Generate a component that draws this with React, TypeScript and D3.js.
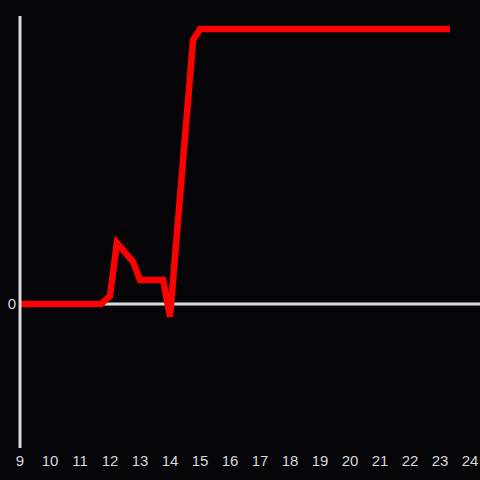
import React from "react";
import * as d3 from "d3";

const times = [9, 11.7, 12.0, 12.23, 12.77, 13.0, 13.77, 14.0, 14.77, 15.0, 23.33];
const values = [0, 0, 2.9, 22.2, 15.3, 8.7, 8.7, -4.7, 96, 100, 100];
const xTicks = [9, 10, 11, 12, 13, 14, 15, 16, 17, 18, 19, 20, 21, 22, 23, 24];
const yTicks = [0];

const W = 480;
const H = 480;

export default function App() {
  React.useEffect(() => {
    document.body.style.margin = "0";
    document.body.style.background = "#050407";
  }, []);
  const x = d3.scaleLinear().domain([9, 24]).range([20, 470]);
  const y = d3.scaleLinear().domain([-52.4, 104.7]).range([448, 16]);
  const data = times.map((t, i) => [t, values[i]] as [number, number]);
  const line = d3
    .line<[number, number]>()
    .x((d) => x(d[0]))
    .y((d) => y(d[1]));
  return (
    <svg width={W} height={H} style={{ display: "block", background: "#050407" }}>
      <rect x={0} y={0} width={W} height={H} fill="#050407" />
      <line x1={20} x2={480} y1={y(0)} y2={y(0)} stroke="#dddddd" strokeWidth={3} />
      <path
        d={line(data) || ""}
        fill="none"
        stroke="#ff0000"
        strokeWidth={6.5}
        strokeLinejoin="miter"
        strokeLinecap="butt"
      />
      <line x1={20} x2={20} y1={16} y2={448} stroke="#dddddd" strokeWidth={3} />
      {yTicks.map((t) => (
        <text
          key={t}
          x={16}
          y={y(t)}
          dy="0.35em"
          textAnchor="end"
          fill="#d8d8d8"
          fontFamily="Liberation Sans, Arial, sans-serif"
          fontSize={15}
        >
          {t}
        </text>
      ))}
      {xTicks.map((t) => (
        <text
          key={t}
          x={x(t)}
          y={461}
          dy="0.35em"
          textAnchor="middle"
          fill="#d8d8d8"
          fontFamily="Liberation Sans, Arial, sans-serif"
          fontSize={15}
        >
          {t}
        </text>
      ))}
    </svg>
  );
}
